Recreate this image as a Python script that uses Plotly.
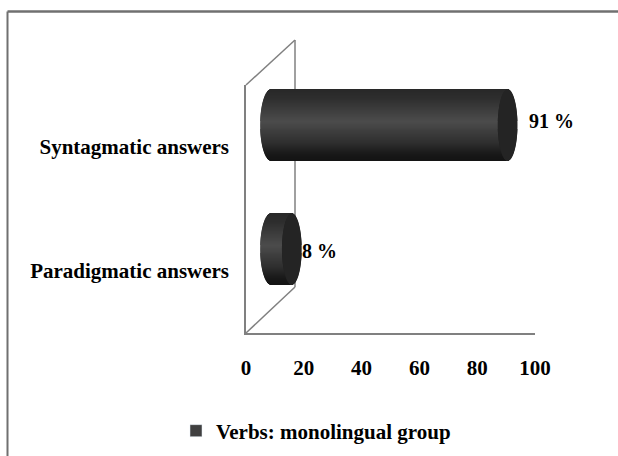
import numpy as np
import plotly.graph_objects as go

categories = ["Paradigmatic answers", "Syntagmatic answers"]
values = [8, 91]
value_labels = ["8 %", "91 %"]
x_ticks = [0, 20, 40, 60, 80, 100]
series_name = "Verbs: monolingual group"

W, H = 618, 456
FONT = "Liberation Serif"
TXT = "#000000"
GRAY = "#808080"
px = lambda v: v / W
py = lambda v: 1 - v / H

HALF = 0.29     # half bar thickness, category units
CAP = 3.8       # ellipse half width, value units
N = 72


def shade(t):
    stops_t = [-1, -0.75, -0.1, 0.5, 0.85, 1]
    stops_c = [40, 46, 76, 48, 24, 20]
    c = int(np.interp(t, stops_t, stops_c))
    return f"rgb({c},{c},{c})"


ts = (np.arange(N) + 0.5) / N * 2 - 1
stroke = np.sqrt(1 - ts ** 2)

fig = go.Figure()
for i, v in enumerate(values):
    ys = i + 0.5 - ts * HALF
    left = -CAP * 1.1 * stroke
    fig.add_bar(y=ys, x=v - left, base=left,
                orientation="h", width=2 * HALF / N,
                marker=dict(color=[shade(t) for t in ts], line_width=0),
                xaxis="x2", yaxis="y2", showlegend=False, hoverinfo="skip")
    fig.add_bar(y=ys, x=2 * CAP * stroke, base=v - CAP * stroke,
                orientation="h", width=2 * HALF / N,
                marker=dict(color="#242424", line_width=0),
                xaxis="x2", yaxis="y2", showlegend=False, hoverinfo="skip")
    fig.add_annotation(x=v, y=i + 0.5, xref="x2", yref="y2", text=f"<b>{value_labels[i]}</b>",
                       showarrow=False, xanchor="left", xshift=19 if v > 50 else 8, yshift=4 if v > 50 else -2,
                       font=dict(family=FONT, size=20, color=TXT))

# legend entry
fig.add_bar(y=[None], x=[None], name=f"<b>{series_name}</b>", marker_color="#404040",
            xaxis="x", yaxis="y", showlegend=True)

wall = dict(type="line", xref="paper", yref="paper", layer="below", line=dict(color=GRAY, width=1.5))
shapes = [
    dict(wall, x0=px(246), y0=py(85), x1=px(295), y1=py(40)),
    dict(wall, x0=px(295), y0=py(40), x1=px(295), y1=py(287)),
    dict(wall, x0=px(295), y0=py(287), x1=px(246), y1=py(333)),
    dict(type="line", xref="paper", yref="paper", x0=px(7.5), x1=1, y0=py(11.5), y1=py(11.5), line=dict(color="#707070", width=2.5)),
    dict(type="line", xref="paper", yref="paper", x0=px(7.5), x1=px(7.5), y0=py(11.5), y1=0, line=dict(color="#707070", width=2)),
]

fig.update_layout(
    width=W, height=H, margin=dict(l=0, r=0, t=0, b=0, autoexpand=False),
    paper_bgcolor="white", plot_bgcolor="rgba(0,0,0,0)",
    barmode="overlay", shapes=shapes,
    font=dict(family=FONT, color=TXT),
    xaxis=dict(domain=[px(246), px(535)], range=[0, 100], tickvals=x_ticks, ticktext=[f"<b>{t}</b>" for t in x_ticks], ticks="",
               tickfont=dict(family=FONT, size=21, color=TXT),
               showgrid=False, zeroline=False, showline=True, linecolor=GRAY, linewidth=2,
               ticklabelstandoff=15, anchor="y"),
    yaxis=dict(domain=[py(333), py(85)], range=[0, 2], tickvals=[0.5, 1.5], ticktext=[f"<b>{c}</b>" for c in categories],
               tickfont=dict(family=FONT, size=21, color=TXT), ticks="",
               showgrid=False, zeroline=False, showline=True, linecolor=GRAY, linewidth=1.5,
               ticklabelstandoff=11, anchor="x"),
    xaxis2=dict(domain=[px(245), px(531)], range=[-10, 100], visible=False, anchor="y2"),
    yaxis2=dict(domain=[py(311), py(63)], range=[0, 2], visible=False, anchor="x2"),
    legend=dict(x=px(316), y=py(431), xanchor="center", yanchor="middle", orientation="h",
                font=dict(family=FONT, size=21, color=TXT), bgcolor="rgba(0,0,0,0)",
                itemclick=False, itemdoubleclick=False),
)
fig.write_html("out.html", config=dict(displayModeBar=False),
               post_script="document.body.style.margin='0';document.documentElement.style.overflow='hidden';")
